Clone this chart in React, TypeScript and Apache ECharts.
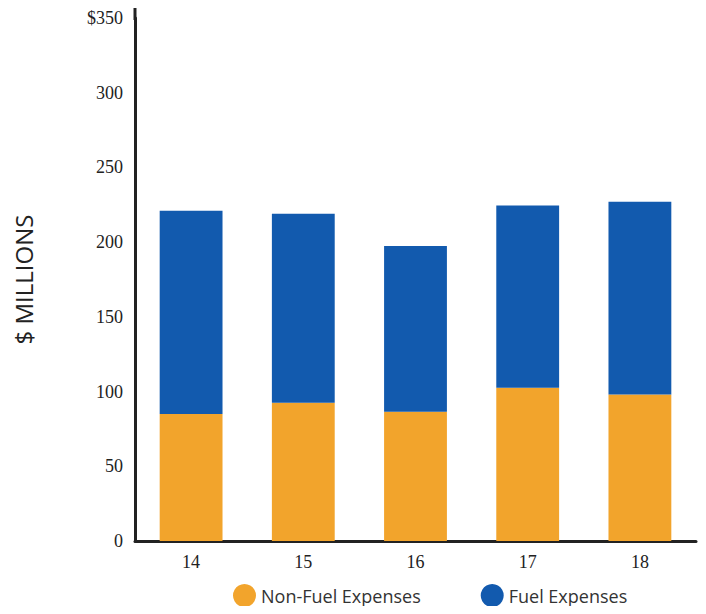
import React, { useEffect, useRef } from "react";
import * as echarts from "echarts";

const categories = ["14", "15", "16", "17", "18"];
const nonFuel = [85, 92.5, 86.5, 102.5, 98];
const fuel = [136, 126.5, 111, 122, 129];
const yTicks = [0, 50, 100, 150, 200, 250, 300, 350];

export default function App() {
  const ref = useRef<HTMLDivElement>(null);
  useEffect(() => {
    const chart = echarts.init(ref.current!, null, { renderer: "svg" });
    chart.setOption({
      animation: false,
      backgroundColor: "#fff",
      grid: { left: 135, right: 10, top: 18, bottom: 73 },
      legend: {
        bottom: 2,
        left: 228,
        itemGap: 60,
        icon: "circle",
        itemWidth: 23,
        itemHeight: 23,
        textStyle: { fontFamily: "Open Sans", fontSize: 18, color: "#333" },
        data: ["Non-Fuel Expenses", "Fuel Expenses"],
      },
      xAxis: {
        type: "category",
        data: categories,
        axisLine: { lineStyle: { color: "#222", width: 3 } },
        axisTick: { show: false },
        axisLabel: { fontFamily: "Liberation Serif", fontSize: 18, color: "#222", margin: 12 },
      },
      yAxis: {
        type: "value",
        min: 0,
        max: 350,
        interval: 50,
        name: "$ MILLIONS",
        nameLocation: "middle",
        nameGap: 100,
        nameTextStyle: { fontFamily: "Open Sans", fontSize: 24, color: "#222" },
        axisLine: { show: true, lineStyle: { color: "#222", width: 3 } },
        axisTick: { show: false },
        splitLine: { show: false },
        axisLabel: {
          fontFamily: "Liberation Serif",
          fontSize: 18,
          color: "#222",
          margin: 12,
          formatter: (v: number) => (v === yTicks[yTicks.length - 1] ? "$" + v : String(v)),
        },
      },
      graphic: [
        {
          type: "line",
          shape: { x1: 135, y1: 8, x2: 135, y2: 20 },
          style: { stroke: "#222", lineWidth: 3 },
        },
      ],
      series: [
        {
          name: "Non-Fuel Expenses",
          type: "bar",
          stack: "total",
          barWidth: "56%",
          data: nonFuel,
          itemStyle: { color: "#F2A42C" },
        },
        {
          name: "Fuel Expenses",
          type: "bar",
          stack: "total",
          barWidth: "56%",
          data: fuel,
          itemStyle: { color: "#125AAE" },
        },
      ],
    });
    return () => chart.dispose();
  }, []);
  return <div ref={ref} style={{ width: 706, height: 614, margin: -8 }} />;
}
